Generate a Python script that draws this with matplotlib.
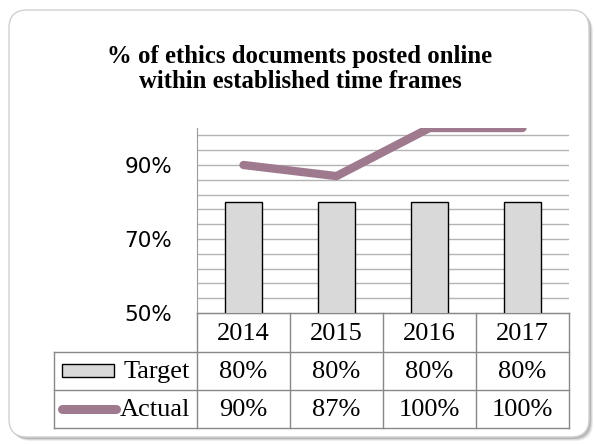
import matplotlib.pyplot as plt
from matplotlib.patches import FancyBboxPatch, Rectangle
import numpy as np

# data
years = ["2014", "2015", "2016", "2017"]
target = [80, 80, 80, 80]
actual = [90, 87, 100, 100]
target_labels = ["80%", "80%", "80%", "80%"]
actual_labels = ["90%", "87%", "100%", "100%"]

W, H = 595, 444
line_color = "#9f7a8f"
bar_color = "#d9d9d9"
grid_color = "#b3b3b3"
serif = ["Liberation Serif", "DejaVu Serif"]

fig = plt.figure(figsize=(W / 100, H / 100), dpi=100)

# overlay axes in pixel coordinates (frame, table, legend keys)
bg = fig.add_axes([0, 0, 1, 1])
bg.set_xlim(0, W)
bg.set_ylim(H, 0)
bg.axis("off")

# frame with a soft shadow
for i, a in enumerate([0.12, 0.18, 0.3]):
    off = 4 - i
    bg.add_patch(FancyBboxPatch((9 + off, 10 + off), 580, 427,
                                boxstyle="round,pad=0,rounding_size=18",
                                fc="#6f6f6f", ec="none", alpha=a, zorder=0))
bg.add_patch(FancyBboxPatch((9, 10), 580, 427,
                            boxstyle="round,pad=0,rounding_size=18",
                            fc="white", ec="#d0d0d0", lw=1, zorder=1))

# title
bg.text(300, 69, "% of ethics documents posted online\nwithin established time frames",
        ha="center", va="center", fontsize=17.8, fontweight="bold",
        family=serif, linespacing=1.1, zorder=3)

# plot area
x0, x1, ytop, ybot = 197, 569, 128, 313
ax = fig.add_axes([x0 / W, 1 - ybot / H, (x1 - x0) / W, (ybot - ytop) / H])
ax.set_zorder(2)
ax.patch.set_alpha(0)
x = np.arange(len(years))
ax.bar(x, target, width=0.4, bottom=0, color=bar_color, edgecolor="black",
       linewidth=1, zorder=2)
ax.plot(x, actual, color=line_color, lw=6, solid_capstyle="round",
        solid_joinstyle="round", zorder=3)
ax.set_xlim(-0.5, len(years) - 0.5)
ax.set_ylim(50, 100)
ax.set_yticks([50, 70, 90])
ax.set_yticklabels(["50%", "70%", "90%"], fontsize=15.5, family="DejaVu Sans")
for g in np.arange(54, 100, 4):
    ax.axhline(g, color=grid_color, lw=1, zorder=1)
ax.tick_params(axis="y", length=0, pad=18)
ax.set_xticks([])
for s in ["top", "right"]:
    ax.spines[s].set_visible(False)
ax.spines["left"].set_color("#999999")
ax.spines["bottom"].set_color("#888888")

# data table
col_w = (x1 - x0) / len(years)
tc = "#888888"
tl = 54
rows = [313, 352, 390, 428]
bg.plot([x0, x1], [rows[0], rows[0]], color=tc, lw=1, zorder=3)
for r in rows[1:]:
    bg.plot([tl, x1], [r, r], color=tc, lw=1, zorder=3)
bg.plot([tl, tl], [rows[1], rows[3]], color=tc, lw=1, zorder=3)
for i in range(len(years) + 1):
    bg.plot([x0 + i * col_w] * 2, [rows[0], rows[3]], color=tc, lw=1, zorder=3)

fs = 19
for i in range(len(years)):
    cx = x0 + (i + 0.5) * col_w
    bg.text(cx, (rows[0] + rows[1]) / 2 + 1, years[i], ha="center", va="center",
            fontsize=fs, family=serif, zorder=4)
    bg.text(cx, (rows[1] + rows[2]) / 2 + 1, target_labels[i], ha="center", va="center",
            fontsize=fs, family=serif, zorder=4)
    bg.text(cx, (rows[2] + rows[3]) / 2 + 1, actual_labels[i], ha="center", va="center",
            fontsize=fs, family=serif, zorder=4)

# legend keys
bg.add_patch(Rectangle((62, 364), 52, 13, fc=bar_color, ec="black", lw=1, zorder=4))
bg.plot([62, 116], [409, 409], color=line_color, lw=6.5, solid_capstyle="round", zorder=4)
bg.text(190, (rows[1] + rows[2]) / 2 + 1, "Target", ha="right", va="center",
        fontsize=fs, family=serif, zorder=4)
bg.text(190, (rows[2] + rows[3]) / 2 + 1, "Actual", ha="right", va="center",
        fontsize=fs, family=serif, zorder=4)

plt.savefig("out.png", dpi=100)
